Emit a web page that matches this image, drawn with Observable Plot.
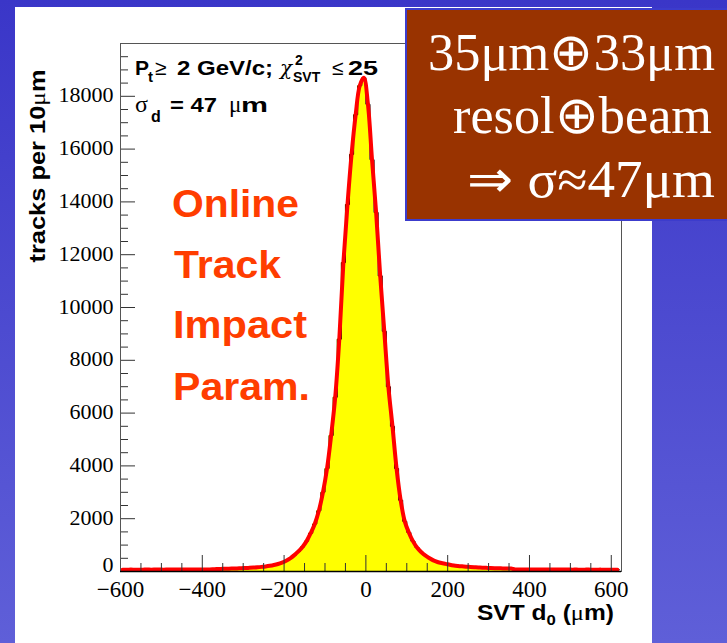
<!DOCTYPE html>
<html><head><meta charset="utf-8">
<script src="https://cdn.jsdelivr.net/npm/d3@7"></script>
<script src="https://cdn.jsdelivr.net/npm/@observablehq/plot@0.6"></script>
<style>
html,body{margin:0;padding:0;}
body{width:727px;height:643px;overflow:hidden;position:relative;background:linear-gradient(to bottom,#3a36c8,#5f5fd8);}
#panel{position:absolute;left:15px;top:7px;width:637px;height:636px;background:#fff;}
#chart{position:absolute;left:0;top:0;}
#overlay{position:absolute;left:0;top:0;}
</style></head><body>
<div id="panel"></div>
<div id="chart"></div>
<svg id="overlay" width="727" height="643" xmlns="http://www.w3.org/2000/svg">
  <g font-family="'Liberation Sans', Arial, sans-serif" font-weight="bold" fill="#000">
    <text transform="translate(45,166) rotate(-90)" text-anchor="middle" font-size="22" textLength="193" lengthAdjust="spacingAndGlyphs">tracks per 10<tspan font-family="'Liberation Serif', serif" font-weight="normal">μ</tspan>m</text>

    <text y="75" font-size="21"><tspan x="135">P</tspan><tspan x="148" dy="7" font-size="15">t</tspan><tspan x="155" dy="-7" font-weight="normal">≥</tspan><tspan x="177" textLength="96" lengthAdjust="spacingAndGlyphs">2 GeV/c;</tspan><tspan x="280" font-family="'DejaVu Serif', serif" font-style="italic" font-weight="normal" font-size="20">χ</tspan><tspan x="295" dy="-10" font-size="14">2</tspan><tspan x="293" dy="17" font-size="14">SVT</tspan><tspan x="332" dy="-7" font-weight="normal">≤</tspan><tspan x="348" textLength="30" lengthAdjust="spacingAndGlyphs">25</tspan></text>

    <text y="112" font-size="21"><tspan x="135" font-family="'Liberation Serif', serif" font-weight="normal" font-size="24">σ</tspan><tspan x="151" dy="10" font-size="16">d</tspan><tspan x="170" dy="-10" textLength="47" lengthAdjust="spacingAndGlyphs">= 47</tspan><tspan x="229" font-family="'Liberation Serif', serif" font-weight="normal" font-size="23">μ</tspan><tspan x="241" textLength="27" lengthAdjust="spacingAndGlyphs">m</tspan></text>

    <text x="614" y="620" text-anchor="end" font-size="22" textLength="137" lengthAdjust="spacingAndGlyphs">SVT d<tspan dy="5" font-size="15">0</tspan><tspan dy="-5"> (</tspan><tspan font-family="'Liberation Serif', serif" font-weight="normal">μ</tspan>m)</text>
  </g>
  <g font-family="'Liberation Sans', Arial, sans-serif" font-weight="bold" fill="#ff3d00" font-size="38">
    <text x="172" y="217" textLength="127" lengthAdjust="spacingAndGlyphs">Online</text>
    <text x="174" y="278" textLength="107" lengthAdjust="spacingAndGlyphs">Track</text>
    <text x="173" y="338" textLength="134" lengthAdjust="spacingAndGlyphs">Impact</text>
    <text x="173" y="400" textLength="137" lengthAdjust="spacingAndGlyphs">Param.</text>
  </g>
  <rect x="406" y="9" width="330" height="211" fill="#993300" stroke="#3c3ccc" stroke-width="2"/>
  <g font-family="'Liberation Serif', 'Times New Roman', serif" fill="#fff" font-size="52" text-anchor="end">
    <text x="715" y="70" textLength="287" lengthAdjust="spacingAndGlyphs">35μm⊕33μm</text>
    <text x="712" y="133" textLength="259" lengthAdjust="spacingAndGlyphs">resol⊕beam</text>
    <text x="715" y="197" textLength="248" lengthAdjust="spacingAndGlyphs">⇒ σ≈47μm</text>
  </g>
</svg>
<script>
// Histogram: 10 µm bins starting at -600 µm
const binStart = -600;
const binWidth = 10;
const counts = [
  70, 68, 72, 70, 69, 71, 73, 70, 72, 74, 71, 73, 75, 72, 74, 76, 75, 77, 76, 78, 79, 80, 82,
  96, 99, 102, 106, 112, 118, 124, 130, 138, 148, 160, 175, 192, 215, 245, 285, 340, 410,
  500, 620, 760, 930, 1150, 1450, 1800, 2300, 3000, 3900, 5150, 6600, 8800, 11700, 13900,
  15800, 17300, 18400, 18700,
  17700, 15600, 13600, 11200, 9100, 7000, 5500, 3900, 2700, 1900, 1480, 1150, 910, 740,
  610, 510, 420, 360, 320, 290, 255, 228, 210, 196, 184, 172, 162, 153, 145, 138, 132,
  127, 122, 118, 114, 110,
  80, 78, 77, 79, 76, 75, 77, 74, 76, 73, 75, 72, 74, 73, 71, 72, 70, 71, 72, 69, 70, 71,
  68, 70, 69, 70
];
const xTicks = [-600, -400, -200, 0, 200, 400, 600];
const yTicks = [2000, 4000, 6000, 8000, 10000, 12000, 14000, 16000, 18000];
const yZeroTick = [0];
const xDomain = [-600, 625];
const yDomain = [0, 20000];

const edges = counts.map((c, i) => ({x: binStart + i * binWidth, y: c}));
const steps = edges.concat([{x: binStart + counts.length * binWidth, y: counts[counts.length - 1]}]);
const centers = counts.map((c, i) => ({x: binStart + (i + 0.5) * binWidth, y: c}));

const yMajor = yZeroTick.concat(yTicks);
const xMinor = d3.range(-600, 601, 50).filter(v => !xTicks.includes(v));
const yMinor = d3.range(0, 20000, 500).filter(v => !yMajor.includes(v));

const W = 727, H = 643, mL = 120, mR = 106, mT = 43, mB = 72;
const fw = W - mL - mR, fh = H - mT - mB;
const serif = "'Liberation Serif', serif";

const chart = Plot.plot({
  width: W, height: H,
  marginLeft: mL, marginRight: mR, marginTop: mT, marginBottom: mB,
  x: {domain: xDomain},
  y: {domain: yDomain},
  style: {background: "transparent", color: "black", overflow: "visible"},
  marks: [
    Plot.areaY(steps, {x: "x", y: "y", curve: "step-after", fill: "#ffff00"}),
    Plot.lineY(steps, {x: "x", y: "y", curve: "step-after", stroke: "#000", strokeWidth: 1}),
    Plot.line(centers, {x: "x", y: "y", curve: "catmull-rom", stroke: "#ff0000", strokeWidth: 4}),
    Plot.ruleY(yMajor, {insetRight: fw - 15, stroke: "#333", strokeWidth: 1}),
    Plot.ruleY(yMinor, {insetRight: fw - 8, stroke: "#333", strokeWidth: 1}),
    Plot.ruleX(xTicks, {insetTop: fh - 16, stroke: "#333", strokeWidth: 1}),
    Plot.ruleX(xMinor, {insetTop: fh - 8, stroke: "#333", strokeWidth: 1}),
    Plot.frame({stroke: "#555", strokeWidth: 1}),
    Plot.ruleY([0], {stroke: "#000", strokeWidth: 1.5}),
    Plot.axisX(xTicks, {tickSize: 0, tickPadding: 9, tickFormat: d3.format("d"), fontSize: 23, fontFamily: serif, label: null}),
    Plot.axisY(yTicks, {tickSize: 0, tickPadding: 7, dy: -1, tickFormat: d3.format("d"), fontSize: 22, fontFamily: serif, label: null}),
    Plot.axisY(yZeroTick, {tickSize: 0, tickPadding: 7, dy: -7, tickFormat: d3.format("d"), fontSize: 22, fontFamily: serif, label: null})
  ]
});
document.getElementById("chart").appendChild(chart);
</script>
</body></html>
